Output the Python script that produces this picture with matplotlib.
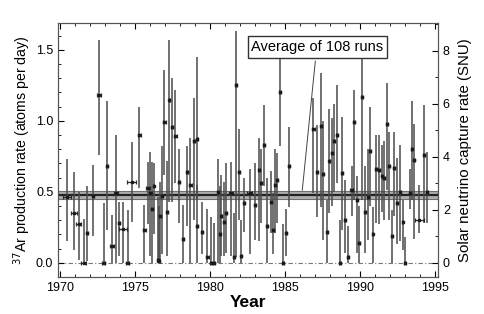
import matplotlib.pyplot as plt
from matplotlib.ticker import MultipleLocator

# run mid-times (year), 37Ar production rate (atoms/day), 1-sigma range and half run length
years = [1970.45, 1970.91, 1971.24, 1971.56, 1971.78, 1972.20, 1972.58, 1972.91, 1973.11, 1973.44,
         1973.73, 1973.91, 1974.18, 1974.50, 1974.78, 1975.29, 1975.62, 1975.84, 1976.00, 1976.10,
         1976.23, 1976.51, 1976.60, 1976.68, 1976.78, 1976.95, 1977.13, 1977.29, 1977.47, 1977.69,
         1977.91, 1978.20, 1978.47, 1978.69, 1978.91, 1979.13, 1979.16, 1979.47, 1979.82, 1980.04,
         1980.27, 1980.53, 1980.64, 1980.76, 1980.91, 1981.04, 1981.38, 1981.60, 1981.71, 1981.91,
         1982.04, 1982.27, 1982.64, 1983.00, 1983.27, 1983.42, 1983.60, 1983.78, 1984.04, 1984.22,
         1984.31, 1984.44, 1984.64, 1984.89, 1985.04, 1985.27, 1986.89, 1987.11, 1987.38, 1987.51,
         1987.78, 1987.96, 1988.11, 1988.29, 1988.44, 1988.67, 1988.82, 1989.00, 1989.18, 1989.44,
         1989.62, 1989.78, 1989.96, 1990.11, 1990.33, 1990.51, 1990.67, 1990.84, 1991.07, 1991.29,
         1991.44, 1991.60, 1991.78, 1991.93, 1992.11, 1992.29, 1992.49, 1992.67, 1992.84, 1993.02,
         1993.33, 1993.44, 1993.60, 1993.96, 1994.29, 1994.49]
rate = [0.46, 0.35, 0.27, 0.00, 0.21, 0.47, 1.18, 0.00, 0.68, 0.12,
        0.49, 0.28, 0.24, 0.00, 0.57, 0.90, 0.23, 0.53, 0.49, 0.38,
        0.54, 0.02, 0.01, 0.33, 0.47, 0.99, 0.36, 1.15, 0.96, 0.89,
        0.57, 0.17, 0.64, 0.55, 0.86, 0.26, 0.875, 0.22, 0.04, 0.00,
        0.00, 0.50, 0.20, 0.33, 0.29, 0.35, 0.49, 0.04, 1.25, 0.64,
        0.05, 0.42, 0.49, 0.41, 0.655, 0.56, 0.83, 0.26, 0.43, 0.23,
        0.545, 0.585, 1.20, 0.00, 0.21, 0.685, 0.94, 0.64, 0.965, 0.625,
        0.22, 0.72, 0.77, 0.86, 0.90, 0.00, 0.63, 0.30, 0.04, 0.51,
        0.99, 0.44, 0.14, 1.17, 0.355, 0.465, 0.79, 0.20, 0.66, 0.655,
        0.61, 0.60, 0.98, 0.68, 0.19, 0.67, 0.42, 0.50, 0.29, 0.00,
        0.49, 0.80, 0.725, 0.30, 0.76, 0.50]
rate_lo = [0.15, 0.09, 0.02, 0.00, 0.01, 0.19, 0.76, 0.00, 0.23, 0.00,
           0.00, 0.05, 0.00, 0.00, 0.29, 0.53, 0.00, 0.27, 0.05, 0.00,
           0.20, 0.00, 0.00, 0.00, 0.06, 0.62, 0.05, 0.43, 0.43, 0.56,
           0.28, 0.00, 0.26, 0.00, 0.30, 0.00, 0.45, 0.06, 0.00, 0.00,
           0.00, 0.00, 0.00, 0.05, 0.05, 0.07, 0.05, 0.00, 0.04, 0.30,
           0.00, 0.22, 0.06, 0.16, 0.15, 0.28, 0.54, 0.00, 0.21, 0.06,
           0.21, 0.28, 0.82, 0.00, 0.05, 0.39, 0.49, 0.32, 0.39, 0.16,
           0.00, 0.35, 0.40, 0.50, 0.56, 0.00, 0.23, 0.07, 0.00, 0.33,
           0.44, 0.07, 0.00, 0.44, 0.07, 0.16, 0.40, 0.00, 0.28, 0.27,
           0.36, 0.30, 0.51, 0.30, 0.00, 0.33, 0.13, 0.15, 0.09, 0.00,
           0.38, 0.44, 0.17, 0.21, 0.28, 0.28]
rate_hi = [0.73, 0.64, 0.50, 0.31, 0.54, 0.69, 1.57, 0.42, 1.14, 0.34,
           0.90, 0.43, 0.43, 0.37, 0.85, 1.10, 0.41, 0.71, 0.78, 0.71,
           0.70, 0.46, 0.40, 0.57, 0.82, 1.36, 0.72, 1.57, 1.30, 1.22,
           0.80, 0.41, 0.82, 0.88, 1.16, 0.55, 1.45, 0.43, 0.38, 0.32,
           0.28, 0.73, 0.54, 0.62, 0.57, 0.70, 0.71, 0.35, 1.63, 0.94,
           0.30, 0.60, 0.66, 0.70, 0.88, 0.80, 1.11, 0.60, 0.65, 0.49,
           0.80, 0.77, 1.48, 0.27, 0.38, 0.96, 1.16, 0.97, 1.34, 1.00,
           0.44, 1.08, 1.02, 1.12, 1.25, 0.30, 1.03, 0.58, 0.26, 0.68,
           1.22, 0.61, 0.40, 1.46, 0.68, 0.80, 1.10, 0.39, 0.90, 0.90,
           0.83, 0.86, 1.27, 0.92, 0.37, 0.92, 0.74, 0.83, 0.44, 0.18,
           0.66, 1.14, 0.98, 0.55, 1.11, 0.78]
half_len = [0.28, 0.20, 0.15, 0.15, 0.08, 0.08, 0.12, 0.10, 0.08, 0.12,
            0.12, 0.08, 0.25, 0.08, 0.30, 0.10, 0.10, 0.12, 0.10, 0.06,
            0.06, 0.08, 0.06, 0.06, 0.06, 0.08, 0.06, 0.06, 0.06, 0.08,
            0.08, 0.06, 0.06, 0.10, 0.08, 0.06, 0.06, 0.06, 0.10, 0.06,
            0.06, 0.06, 0.06, 0.06, 0.06, 0.06, 0.15, 0.06, 0.06, 0.06,
            0.06, 0.06, 0.15, 0.06, 0.06, 0.06, 0.06, 0.06, 0.06, 0.06,
            0.06, 0.06, 0.06, 0.06, 0.06, 0.08, 0.08, 0.06, 0.06, 0.06,
            0.06, 0.06, 0.06, 0.06, 0.06, 0.08, 0.06, 0.06, 0.06, 0.12,
            0.06, 0.06, 0.06, 0.06, 0.06, 0.06, 0.06, 0.06, 0.06, 0.06,
            0.06, 0.06, 0.06, 0.06, 0.06, 0.06, 0.06, 0.06, 0.06, 0.06,
            0.06, 0.06, 0.06, 0.28, 0.06, 0.06]

avg_rate = 0.478
avg_band = (0.448, 0.508)
snu_per_rate = 5.36

plt.rcParams['font.family'] = ['Liberation Sans', 'DejaVu Sans']

fig = plt.figure(figsize=(4.85, 3.14), dpi=100)
ax = fig.add_axes([0.12, 0.118, 0.783, 0.809])

yerr = [[r - lo for r, lo in zip(rate, rate_lo)], [hi - r for r, hi in zip(rate, rate_hi)]]

ax.axhline(0, color='#777777', lw=0.8, ls=(0, (4, 2, 1, 2)), zorder=1)
ax.axhspan(avg_band[0], avg_band[1], facecolor='#b0b0b0', edgecolor='#707070', lw=0.8, zorder=2)
ax.axhline(avg_rate, color='#222222', lw=1.6, zorder=3)

ax.errorbar(years, rate, yerr=yerr, fmt='none', ecolor='#4a4a4a', elinewidth=1.1, zorder=4)
ax.errorbar(years, rate, xerr=half_len, fmt='s', ms=2.0, color='#1a1a1a', ecolor='#2a2a2a',
            elinewidth=0.9, capsize=1.6, capthick=0.9, zorder=5)

ax.set_xlim(1969.87, 1995.2)
ax.set_ylim(-0.1, 1.69)
ax.xaxis.set_major_locator(MultipleLocator(5))
ax.xaxis.set_minor_locator(MultipleLocator(1))
ax.yaxis.set_major_locator(MultipleLocator(0.5))
ax.yaxis.set_minor_locator(MultipleLocator(0.1))
ax.yaxis.set_major_formatter(lambda v, p: f'{v:.1f}')
ax.tick_params(which='both', direction='in', top=True, labelsize=9)
ax.tick_params(which='major', length=4)
ax.tick_params(which='minor', length=2)

ax.set_xlabel('Year', fontsize=12.5, fontweight='bold', labelpad=1)
ax.set_ylabel('$^{37}$Ar production rate (atoms per day)', fontsize=10.2, labelpad=2)

ax2 = ax.twinx()
lo, hi = ax.get_ylim()
ax2.set_ylim(lo * snu_per_rate, hi * snu_per_rate)
ax2.yaxis.set_major_locator(MultipleLocator(2))
ax2.yaxis.set_minor_locator(MultipleLocator(1))
ax2.tick_params(which='both', direction='in', labelsize=9)
ax2.tick_params(which='major', length=4)
ax2.tick_params(which='minor', length=2)
ax2.set_ylabel('Solar neutrino capture rate (SNU)', fontsize=10.8, labelpad=6)

for a in (ax, ax2):
    for s in a.spines.values():
        s.set_color('#555555')

ax.annotate('Average of 108 runs', xy=(1986.13, 0.49), xytext=(1982.75, 1.52),
            fontsize=10.5, ha='left', va='center',
            bbox=dict(boxstyle='square,pad=0.25', fc='white', ec='#333333', lw=1.0),
            arrowprops=dict(arrowstyle='-', color='#444444', lw=0.7,
                            relpos=(0.49, 0.0)), zorder=6)

fig.savefig('out.png', dpi=100)
